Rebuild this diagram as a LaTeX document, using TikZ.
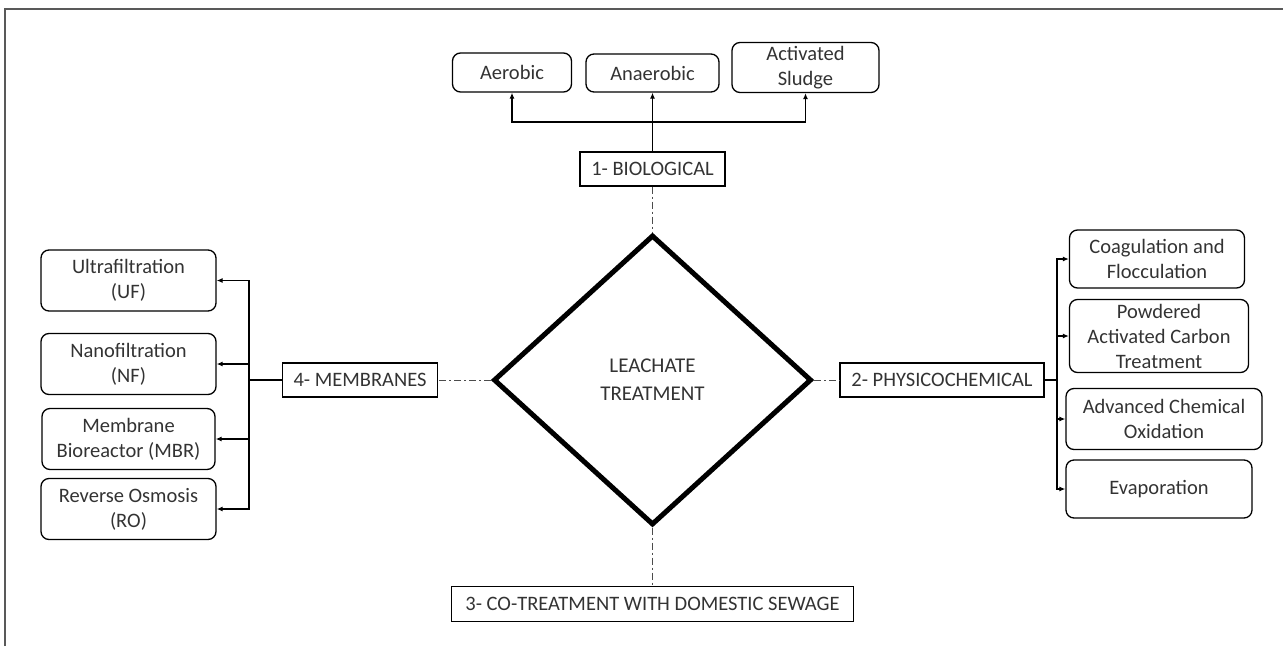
\documentclass[tikz,border=0pt]{standalone}
\usepackage{fontspec}
\setmainfont{Carlito}
\usetikzlibrary{arrows.meta,shapes.geometric}

\begin{document}
\begin{tikzpicture}[x=1pt, y=-1pt,
    every node/.style={font=\fontsize{20.5}{25}\selectfont, text=black!80, align=center, inner sep=0pt},
    group/.style={draw, line width=1.3pt, minimum height=34pt},
    option/.style={draw, rounded corners=8pt, line width=1.3pt},
    hub/.style={draw, diamond, line width=5pt, minimum width=318pt, minimum height=290pt, font=\fontsize{21}{28}\selectfont},
    branch/.style={-{Latex[length=6pt,width=5pt]}, line width=1.2pt},
    trunk/.style={line width=1.2pt},
    link/.style={line width=1pt, black!70, dash pattern=on 7pt off 3pt on 2pt off 3pt}]
  \useasboundingbox (0,0) rectangle (1283,646);
  \draw[line width=2pt, black!65] (5,646) -- (5,9) -- (1283,9);

  \node (hub) [hub] at (652.5,380) {LEACHATE\\TREATMENT};
  \node (bio) [group, minimum width=145pt] at (652.5,169) {1- BIOLOGICAL};
  \node (phy) [group, minimum width=204pt] at (942,380) {2- PHYSICOCHEMICAL};
  \node (cotreat) [group, minimum width=402pt, minimum height=35pt] at (652.5,604) {3- CO-TREATMENT WITH DOMESTIC SEWAGE};
  \node (mem) [group, minimum width=155pt] at (360,380) {4- MEMBRANES};

  \node (aer) [option, minimum width=119pt, minimum height=39pt] at (512,72.5) {Aerobic};
  \node (anaer) [option, minimum width=133pt, minimum height=38pt] at (652.5,73) {Anaerobic};
  \node (sludge) [option, minimum width=147pt, minimum height=50pt] at (805.5,67.5) {Activated\\Sludge};

  \node (uf) [option, minimum width=175pt, minimum height=61pt] at (128.5,280.5) {Ultrafiltration\\(UF)};
  \node (nf) [option, minimum width=175pt, minimum height=61pt] at (128.5,364) {Nanofiltration\\(NF)};
  \node (mbr) [option, minimum width=173pt, minimum height=61pt] at (128.5,439) {Membrane\\Bioreactor (MBR)};
  \node (ro) [option, minimum width=175pt, minimum height=61pt] at (128.5,509) {Reverse Osmosis\\(RO)};

  \node (coag) [option, minimum width=175pt, minimum height=58pt] at (1157,259) {Coagulation and\\Flocculation};
  \node (pac) [option, minimum width=179pt, minimum height=73pt] at (1159,336) {Powdered\\Activated Carbon\\Treatment};
  \node (aco) [option, minimum width=196pt, minimum height=61pt] at (1164,419) {Advanced Chemical\\Oxidation};
  \node (evap) [option, minimum width=186pt, minimum height=58pt] at (1159,489) {Evaporation};

  \coordinate (bioj) at (652.5,122);
  \coordinate (memj) at (249,380);
  \coordinate (phyj) at (1057,380);

  \draw[branch] (bio) -- (anaer);
  \draw[branch] (bioj) -| (aer.south);
  \draw[branch] (bioj) -| (sludge.south);

  \draw[trunk] (mem) -- (memj);
  \draw[branch] (memj) |- (uf.east);
  \draw[branch] (memj) |- (nf.east);
  \draw[branch] (memj) |- (mbr.east);
  \draw[branch] (memj) |- (ro.east);

  \draw[trunk] (phy) -- (phyj);
  \draw[branch] (phyj) |- (coag.west);
  \draw[branch] (phyj) |- (pac.west);
  \draw[branch] (phyj) |- (aco.west);
  \draw[branch] (phyj) |- (evap.west);

  \draw[link] (bio) -- (hub);
  \draw[link] (hub) -- (cotreat);
  \draw[link] (hub) -- (mem);
  \draw[link] (hub) -- (phy);
\end{tikzpicture}
\end{document}
